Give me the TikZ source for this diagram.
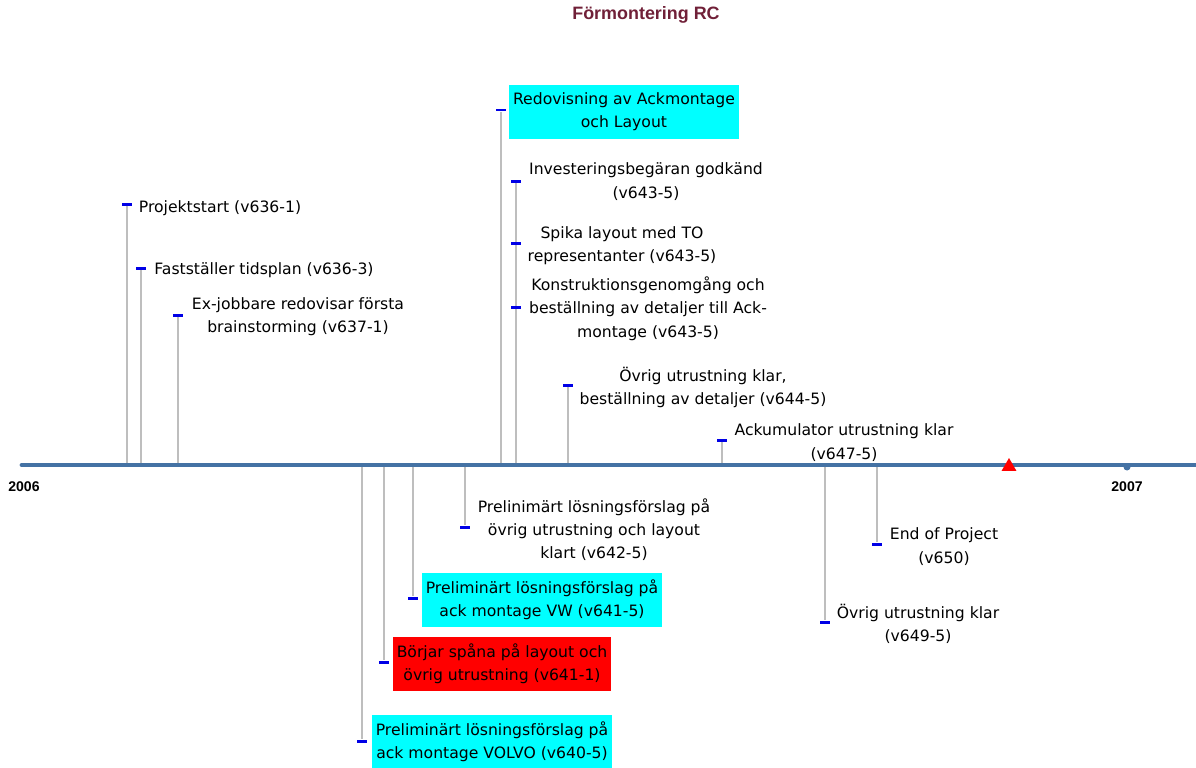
\documentclass[tikz,border=0pt]{standalone}
\usepackage{fontspec}
\setmainfont{DejaVu Sans}
\newfontfamily\headfont{Liberation Sans}
\usepackage{tikz}
\usetikzlibrary{shapes.geometric}

\definecolor{axisblue}{RGB}{68,114,164}
\definecolor{stemgray}{RGB}{190,190,190}
\definecolor{tickblue}{RGB}{0,0,230}
\definecolor{titlered}{RGB}{112,32,56}
\definecolor{hicyan}{RGB}{0,255,255}
\definecolor{warnred}{RGB}{255,0,0}

\tikzset{
  stem/.style={draw=stemgray, line width=1.1pt},
  tick/.style={rectangle, fill=tickblue, minimum width=0.2cm, minimum height=0.06cm, inner sep=0pt},
  lbl/.style={align=center, inner sep=0pt, yshift=-1pt, font=\fontsize{8.9}{13.3}\selectfont},
  hibox/.style={lbl, fill=hicyan, inner xsep=0.08cm, minimum height=1.08cm},
  warnbox/.style={lbl, fill=warnred, inner xsep=0.08cm, minimum height=1.08cm},
  year/.style={font=\headfont\bfseries\fontsize{8}{10}\selectfont, inner sep=0pt}
}

\begin{document}
\begin{tikzpicture}[x=0.02cm, y=-0.02cm]

\useasboundingbox (0,0) rectangle (1196,767);

\node[font=\headfont\bfseries\fontsize{10.2}{12}\selectfont, text=titlered] (title) at (646,15) {Förmontering RC};

\coordinate (ax0) at (22,465);
\coordinate (ax1) at (1196,465);

\coordinate (a1) at (127,465);
\node[tick] (m1) at (127,204) {};
\draw[stem] (a1) -- (m1);
\node[lbl] (t1) at (220,206) {Projektstart (v636-1)};

\coordinate (a2) at (141,465);
\node[tick] (m2) at (141,268) {};
\draw[stem] (a2) -- (m2);
\node[lbl] (t2) at (264,268) {Fastställer tidsplan (v636-3)};

\coordinate (a3) at (178,465);
\node[tick] (m3) at (178,315) {};
\draw[stem] (a3) -- (m3);
\node[lbl] (t3) at (298,315) {Ex-jobbare redovisar första\\brainstorming (v637-1)};

\coordinate (a4) at (501,465);
\node[tick] (m4) at (501,110) {};
\draw[stem] (a4) -- (m4);
\node[hibox] (t4) at (624,110) {Redovisning av Ackmontage\\och Layout};

\coordinate (a5) at (516,465);
\node[tick] (m5) at (516,181) {};
\draw[stem] (a5) -- (m5);
\node[lbl] (t5) at (646,180) {Investeringsbegäran godkänd\\(v643-5)};

\node[tick] (m6) at (516,243) {};
\node[lbl] (t6) at (622,244) {Spika layout med TO\\representanter (v643-5)};

\node[tick] (m7) at (516,307) {};
\node[lbl] (t7) at (648,307) {Konstruktionsgenomgång och\\beställning av detaljer till Ack-\\montage (v643-5)};

\coordinate (a8) at (568,465);
\node[tick] (m8) at (568,385) {};
\draw[stem] (a8) -- (m8);
\node[lbl] (t8) at (703,386) {Övrig utrustning klar,\\beställning av detaljer (v644-5)};

\coordinate (a9) at (722,465);
\node[tick] (m9) at (722,440) {};
\draw[stem] (a9) -- (m9);
\node[lbl] (t9) at (844,441) {Ackumulator utrustning klar\\(v647-5)};

\coordinate (a10) at (362,465);
\node[tick] (m10) at (362,741) {};
\draw[stem] (a10) -- (m10);
\node[hibox] (t10) at (492,740) {Preliminärt lösningsförslag på\\ack montage VOLVO (v640-5)};

\coordinate (a11) at (384,465);
\node[tick] (m11) at (384,662) {};
\draw[stem] (a11) -- (m11);
\node[warnbox] (t11) at (502,662) {Börjar spåna på layout och\\övrig utrustning (v641-1)};

\coordinate (a12) at (413,465);
\node[tick] (m12) at (413,598) {};
\draw[stem] (a12) -- (m12);
\node[hibox] (t12) at (542,598) {Preliminärt lösningsförslag på\\ack montage VW (v641-5)};

\coordinate (a13) at (465,465);
\node[tick] (m13) at (465,527) {};
\draw[stem] (a13) -- (m13);
\node[lbl] (t13) at (594,528) {Prelinimärt lösningsförslag på\\övrig utrustning och layout\\klart (v642-5)};

\coordinate (a14) at (825,465);
\node[tick] (m14) at (825,622) {};
\draw[stem] (a14) -- (m14);
\node[lbl] (t14) at (918,622) {Övrig utrustning klar\\(v649-5)};

\coordinate (a15) at (877,465);
\node[tick] (m15) at (877,544) {};
\draw[stem] (a15) -- (m15);
\node[lbl] (t15) at (944,545) {End of Project\\(v650)};

\draw[axisblue, line width=2.8pt, line cap=round] (ax0) -- (ax1);

\node[circle, fill=axisblue, minimum size=0.14cm, inner sep=0pt] (y2007) at (1127,467) {};
\node[regular polygon, regular polygon sides=3, fill=red, minimum size=0.34cm, inner sep=0pt] (goal) at (1009,466.5) {};

\node[year] (y1) at (24,487) {2006};
\node[year] (y2) at (1127,487) {2007};

\end{tikzpicture}
\end{document}
